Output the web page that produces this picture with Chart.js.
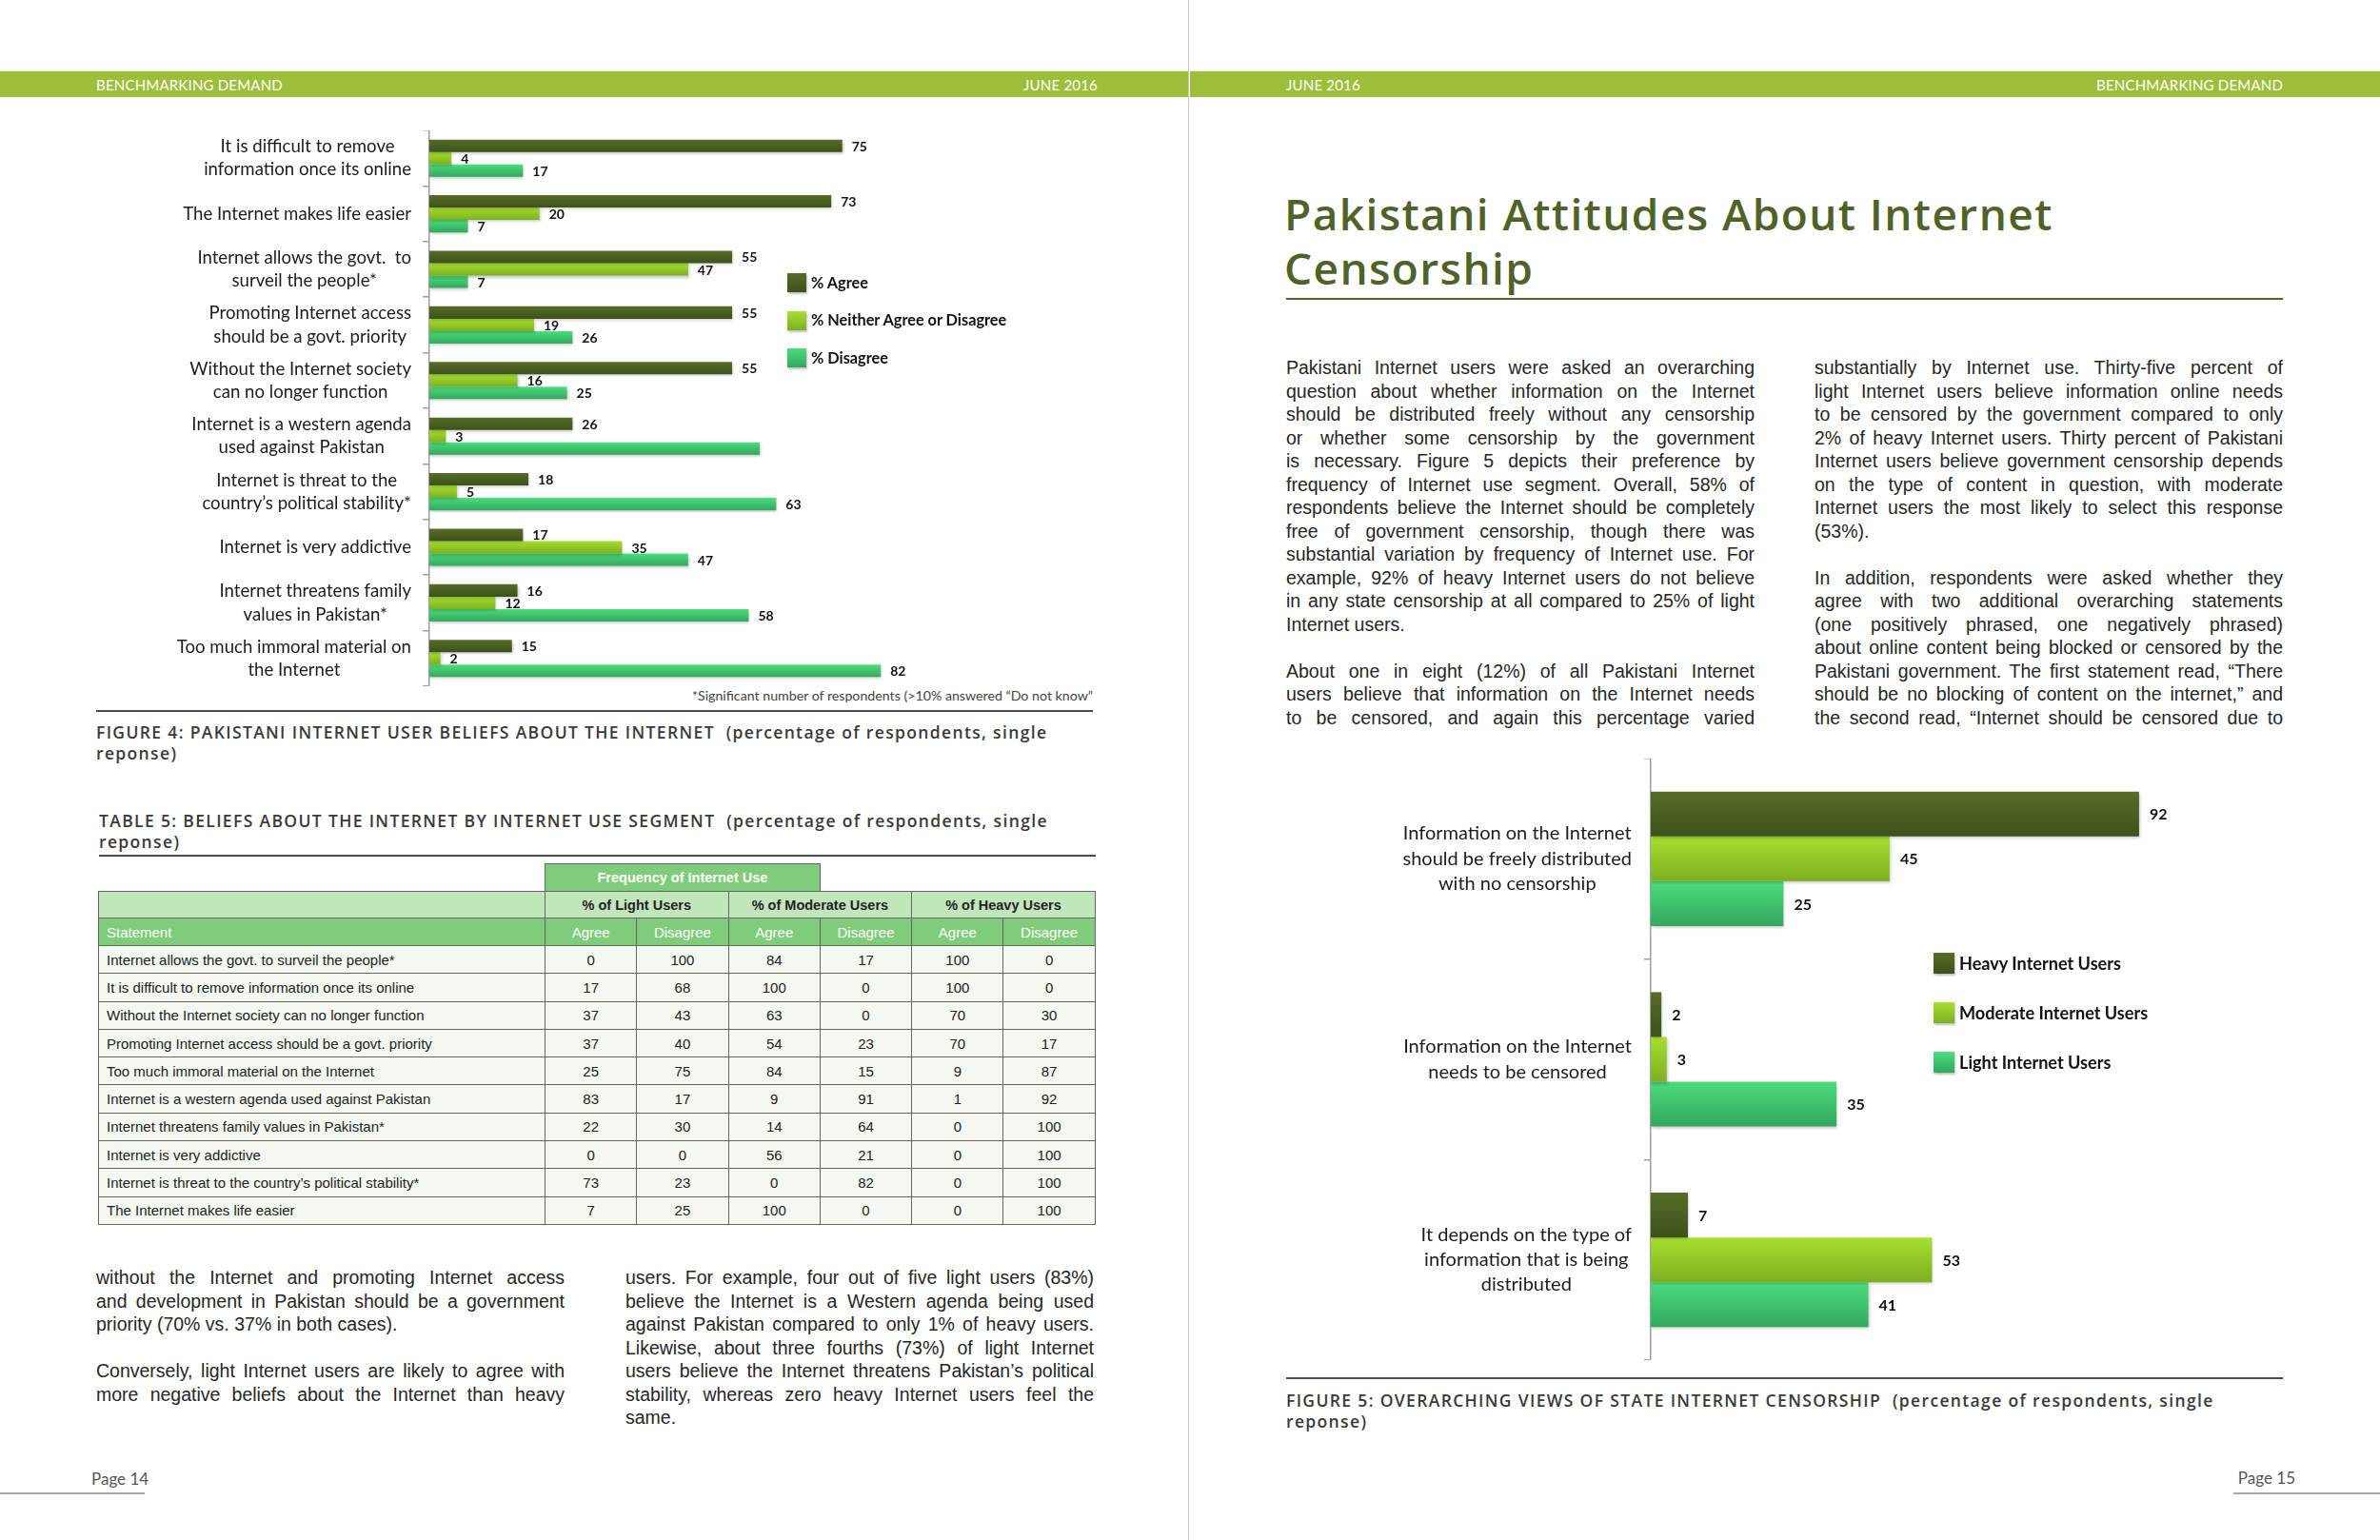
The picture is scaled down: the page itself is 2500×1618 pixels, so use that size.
<!DOCTYPE html>
<html>
<head>
<meta charset="utf-8">
<script src="https://cdn.jsdelivr.net/npm/chart.js@4.4.1/dist/chart.umd.min.js"></script>
<style>
  html, body { margin: 0; padding: 0; background: #fff; }
  body { width: 2500px; height: 1618px; position: relative; overflow: hidden; font-family: 'Liberation Sans', Arial, sans-serif; color: #262626; }
  .abs { position: absolute; }
  .hdr { position: absolute; top: 74px; height: 27px; background: #9dbe3b; border-top: 1px solid #e4eed0; }
  .hdr span { position: absolute; top: 5px; font-family: Lato, sans-serif; font-size: 15px; color: #fff; letter-spacing: 0.2px; }
  .fold { position: absolute; left: 1248px; top: 0; width: 1px; height: 1618px; background: #c8c8c8; }
  .rule { position: absolute; height: 2px; background: #4a4a4a; }
  .caption { position: absolute; font-family: 'Open Sans', sans-serif; font-weight: 600; font-size: 17.5px; letter-spacing: 1.35px; line-height: 22px; color: #3a3a3a; white-space: nowrap; }
  .col { position: absolute; width: 492px; font-size: 19.5px; line-height: 24.5px; color: #262626; }
  .col div { text-align: justify; text-align-last: justify; white-space: nowrap; }
  .col div.last { text-align: left; text-align-last: left; }
  .col div.gap { height: 24.5px; }
  .legend { position: absolute; font-family: Lato, sans-serif; font-weight: 700; color: #111; }
  .legend .item { position: absolute; left: 0; white-space: nowrap; }
  .legend .sw { position: absolute; left: 0; box-shadow: 1px 2px 2px rgba(0,0,0,0.25); }
  .pagenum { position: absolute; font-family: Lato, sans-serif; font-size: 17px; color: #555; }
  .pageline { position: absolute; height: 2px; background: #a8a8a8; top: 1568px; }
  table.t5 { position: absolute; left: 103px; top: 907px; border-collapse: collapse; font-size: 15px; table-layout: fixed; }
  table.t5 td { border: 1.5px solid #666; padding: 0 8px; white-space: nowrap; }
  table.t5 td.c { text-align: center; padding: 0; }
  table.t5 tr.top td { border: none; }
  table.t5 tr.top td.freq { background: #7fcc7a; color: #fff; font-weight: 700; text-align: center; border: 1.5px solid #666; border-bottom: none; font-size: 14.5px; }
  table.t5 tr.grp td { background: #c2e6bc; font-weight: 700; font-size: 14.5px; color: #222; }
  table.t5 tr.sub td { background: #7fcc7a; color: #fff; }
  table.t5 tr.row td { background: #f3f9f1; color: #222; }
</style>
</head>
<body>

<div class="hdr" style="left:0; width:1248px;">
  <span style="left:101px;">BENCHMARKING DEMAND</span>
  <span style="right:95px;">JUNE 2016</span>
</div>
<div class="hdr" style="left:1250px; width:1250px;">
  <span style="left:101px;">JUNE 2016</span>
  <span style="right:102px;">BENCHMARKING DEMAND</span>
</div>
<div class="fold"></div>

<!-- Figure 4 -->
<canvas id="fig4" class="abs" style="left:161px; top:137px;" width="984" height="584"></canvas>
<div id="legend4" class="legend" style="left:827px; top:0;"></div>
<div class="abs" style="left:560px; width:588px; top:722px; text-align:right; font-family:Lato, sans-serif; font-size:14.2px; color:#444;">*Significant number of respondents (&gt;10% answered “Do not know”</div>
<div class="rule" style="left:101px; width:1047px; top:746px;"></div>
<div class="caption" style="left:101px; top:758px;">FIGURE 4: PAKISTANI INTERNET USER BELIEFS ABOUT THE INTERNET&nbsp; (percentage of respondents, single<br>reponse)</div>

<!-- Table 5 -->
<div class="caption" style="left:104px; top:851px;">TABLE 5: BELIEFS ABOUT THE INTERNET BY INTERNET USE SEGMENT&nbsp; (percentage of respondents, single<br>reponse)</div>
<div class="rule" style="left:104px; width:1047px; top:898px;"></div>
<table class="t5" id="table5"></table>

<div id="textLeftA" class="col" style="left:101px; top:1330px;"></div>
<div id="textLeftB" class="col" style="left:657px; top:1330px;"></div>

<div class="pagenum" style="left:96px; top:1543px;">Page 14</div>
<div class="pageline" style="left:0; width:152px;"></div>

<!-- Right page -->
<div class="abs" style="left:1349px; top:196px; font-family:'Open Sans', sans-serif; font-weight:600; font-size:46px; letter-spacing:1.4px; line-height:57px; color:#4f6228; white-space:nowrap;">Pakistani Attitudes About Internet<br>Censorship</div>
<div class="rule" style="left:1351px; width:1047px; top:313px; background:#4f6228;"></div>

<div id="textRightA" class="col" style="left:1351px; top:374px;"></div>
<div id="textRightB" class="col" style="left:1906px; top:374px;"></div>

<canvas id="fig5" class="abs" style="left:1434px; top:797px;" width="969" height="632"></canvas>
<div id="legend5" class="legend" style="left:2031px; top:0;"></div>
<div class="rule" style="left:1351px; width:1047px; top:1447px;"></div>
<div class="caption" style="left:1351px; top:1460px;">FIGURE 5: OVERARCHING VIEWS OF STATE INTERNET CENSORSHIP&nbsp; (percentage of respondents, single<br>reponse)</div>

<div class="pagenum" style="right:89px; top:1542px;">Page 15</div>
<div class="pageline" style="left:2346px; width:154px;"></div>

<script>
// ---- Figure 4 data ----
const beliefCategories = [
  ['It is difficult to remove', 'information once its online'],
  'The Internet makes life easier',
  ['Internet allows the govt.  to', 'surveil the people*'],
  ['Promoting Internet access', 'should be a govt. priority'],
  ['Without the Internet society', 'can no longer function'],
  ['Internet is a western agenda', 'used against Pakistan'],
  ['Internet is threat to the', 'country\u2019s political stability*'],
  'Internet is very addictive',
  ['Internet threatens family', 'values in Pakistan*'],
  ['Too much immoral material on', 'the Internet']
];
const agreeValues    = [75, 73, 55, 55, 55, 26, 18, 17, 16, 15];
const neitherValues  = [4, 20, 47, 19, 16, 3, 5, 35, 12, 2];
const disagreeValues = [17, 7, 7, 26, 25, 60, 63, 47, 58, 82];
const disagreeLabelHidden = [5]; // label cut off in the original
const beliefSeries = ['% Agree', '% Neither Agree or Disagree', '% Disagree'];

// ---- Figure 5 data ----
const censorCategories = [
  ['Information on the Internet', 'should be freely distributed', 'with no censorship'],
  ['Information on the Internet', 'needs to be censored'],
  ['It depends on the type of', 'information that is being', 'distributed']
];
const heavyValues    = [92, 2, 7];
const moderateValues = [45, 3, 53];
const lightValues    = [25, 35, 41];
const censorSeries = ['Heavy Internet Users', 'Moderate Internet Users', 'Light Internet Users'];

// ---- Table 5 data ----
const tableStatements = [
  'Internet allows the govt. to surveil the people*',
  'It is difficult to remove information once its online',
  'Without the Internet society can no longer function',
  'Promoting Internet access should be a govt. priority',
  'Too much immoral material on the Internet',
  'Internet is a western agenda used against Pakistan',
  'Internet threatens family values in Pakistan*',
  'Internet is very addictive',
  'Internet is threat to the country\u2019s political stability*',
  'The Internet makes life easier'
];
const lightAgree       = [0, 17, 37, 37, 25, 83, 22, 0, 73, 7];
const lightDisagree    = [100, 68, 43, 40, 75, 17, 30, 0, 23, 25];
const moderateAgree    = [84, 100, 63, 54, 84, 9, 14, 56, 0, 100];
const moderateDisagree = [17, 0, 0, 23, 15, 91, 64, 21, 82, 0];
const heavyAgree       = [100, 100, 70, 70, 9, 1, 0, 0, 0, 0];
const heavyDisagree    = [0, 0, 30, 17, 87, 92, 100, 100, 100, 100];

// bar colours (top, bottom of gradient)
const darkOlive = ['#566d28', '#3d511a'];
const lime      = ['#a6df2f', '#7daf22'];
const mint      = ['#4bdc7c', '#33a85e'];

// gradient fill + soft drop shadow like the Excel original
const barLook = {
  id: 'barLook',
  beforeDatasetsDraw(chart) {
    const c = chart.ctx;
    chart.data.datasets.forEach((ds, k) => {
      chart.getDatasetMeta(k).data.forEach(el => {
        const g = c.createLinearGradient(0, el.y - el.height / 2, 0, el.y + el.height / 2);
        g.addColorStop(0, ds.shade[0]);
        g.addColorStop(1, ds.shade[1]);
        el.options = Object.assign({}, el.options, { backgroundColor: g });
      });
    });
    c.save();
    c.shadowColor = 'rgba(0,0,0,0.22)';
    c.shadowBlur = 3;
    c.shadowOffsetX = 1;
    c.shadowOffsetY = 2;
  },
  afterDatasetsDraw(chart) {
    chart.ctx.restore();
  }
};

// numbers at the end of each bar
const valueLabels = {
  id: 'valueLabels',
  afterDatasetsDraw(chart, args, opts) {
    const c = chart.ctx;
    c.save();
    c.font = 'bold ' + opts.size + 'px Lato';
    c.fillStyle = '#111';
    c.textBaseline = 'middle';
    chart.data.datasets.forEach((ds, k) => {
      chart.getDatasetMeta(k).data.forEach((el, i) => {
        if (ds.hideLabel && ds.hideLabel.includes(i)) return;
        c.fillText(String(ds.data[i]), el.x + opts.offset, el.y + 1);
      });
    });
    c.restore();
  }
};

// category labels Excel-style: each block right-aligned to the axis, its lines centred within the block
const blockLabels = {
  id: 'blockLabels',
  afterDraw(chart, args, opts) {
    const s = chart.scales.y;
    const c = chart.ctx;
    c.save();
    c.font = opts.size + 'px Lato';
    c.fillStyle = '#1c1c1c';
    c.textAlign = 'center';
    c.textBaseline = 'middle';
    chart.data.labels.forEach((lab, i) => {
      const lines = [].concat(lab);
      const w = Math.max(...lines.map(l => c.measureText(l).width));
      const cx = s.right - opts.gap - w / 2;
      const y0 = s.getPixelForTick(i) - (lines.length - 1) * opts.lineH / 2;
      lines.forEach((l, j) => c.fillText(l, cx, y0 + j * opts.lineH));
    });
    c.restore();
  }
};

function makeBarChart(id, labels, series, values, shades, cfg) {
  const datasets = series.map((name, k) => ({
    label: name,
    data: values[k],
    shade: shades[k],
    hideLabel: cfg.hidden ? cfg.hidden[k] : null,
    backgroundColor: shades[k][0],
    borderWidth: 0,
    categoryPercentage: 0.67,
    barPercentage: 1.0
  }));
  return new Chart(document.getElementById(id), {
    type: 'bar',
    data: { labels: labels, datasets: datasets },
    plugins: [barLook, valueLabels, blockLabels],
    options: {
      indexAxis: 'y',
      responsive: false,
      animation: false,
      devicePixelRatio: 1,
      layout: { padding: 0 },
      plugins: {
        legend: { display: false },
        tooltip: { enabled: false },
        valueLabels: { size: cfg.valueSize, offset: cfg.valueOffset },
        blockLabels: { size: cfg.labelSize, lineH: cfg.labelLine, gap: cfg.labelGap }
      },
      scales: {
        x: { display: false, min: 0, max: 120 },
        y: {
          grid: { drawOnChartArea: false, drawTicks: true, tickLength: 7, color: '#a0a0a0', lineWidth: 1.5, offset: true },
          border: { display: true, color: '#a0a0a0', width: 1.5 },
          ticks: { display: false, autoSkip: false },
          afterFit(scale) {
            scale.width = cfg.axisWidth;
            scale.paddingTop = 0;
            scale.paddingBottom = 0;
          }
        }
      }
    }
  });
}

makeBarChart('fig4', beliefCategories, beliefSeries,
  [agreeValues, neitherValues, disagreeValues], [darkOlive, lime, mint],
  { axisWidth: 290, labelGap: 19, labelSize: 18.6, labelLine: 24.2, valueSize: 14, valueOffset: 10,
    hidden: [null, null, disagreeLabelHidden] });

makeBarChart('fig5', censorCategories, censorSeries,
  [heavyValues, moderateValues, lightValues], [darkOlive, lime, mint],
  { axisWidth: 300, labelGap: 20, labelSize: 20, labelLine: 26.3, valueSize: 16, valueOffset: 11 });

// legends
function buildLegend(id, names, shades, firstY, stepY, box, size, textGap) {
  const host = document.getElementById(id);
  names.forEach((name, k) => {
    const cy = firstY + k * stepY;
    const sw = document.createElement('div');
    sw.className = 'sw';
    sw.style.cssText = 'top:' + (cy - box / 2) + 'px;width:' + box + 'px;height:' + box + 'px;background:linear-gradient(' + shades[k][0] + ',' + shades[k][1] + ');';
    host.appendChild(sw);
    const t = document.createElement('div');
    t.className = 'item';
    t.style.cssText = 'left:' + textGap + 'px;top:' + (cy - size * 0.62) + 'px;font-size:' + size + 'px;';
    t.textContent = name;
    host.appendChild(t);
  });
}
buildLegend('legend4', beliefSeries, [darkOlive, lime, mint], 297, 39.5, 20, 16.3, 25);
buildLegend('legend5', censorSeries, [darkOlive, lime, mint], 1012, 52, 22, 18.1, 27);

// table 5
(function () {
  const tb = document.getElementById('table5');
  let html = '<colgroup><col style="width:469px">' + '<col style="width:96.3px">'.repeat(6) + '</colgroup>';
  html += '<tr class="top" style="height:29px"><td></td><td class="freq" colspan="3">Frequency of Internet Use</td><td colspan="3"></td></tr>';
  html += '<tr class="grp" style="height:28px"><td></td><td class="c" colspan="2">% of Light Users</td><td class="c" colspan="2">% of Moderate Users</td><td class="c" colspan="2">% of Heavy Users</td></tr>';
  html += '<tr class="sub" style="height:29px"><td>Statement</td>' + '<td class="c">Agree</td><td class="c">Disagree</td>'.repeat(3) + '</tr>';
  tableStatements.forEach((s, i) => {
    const vals = [lightAgree[i], lightDisagree[i], moderateAgree[i], moderateDisagree[i], heavyAgree[i], heavyDisagree[i]];
    html += '<tr class="row" style="height:29.3px"><td>' + s + '</td>' + vals.map(v => '<td class="c">' + v + '</td>').join('') + '</tr>';
  });
  tb.innerHTML = html;
})();

// body text, one entry per printed line; '' = paragraph break
function fillColumn(id, lines, lastIdx) {
  const host = document.getElementById(id);
  lines.forEach((line, i) => {
    const d = document.createElement('div');
    if (line === '') { d.className = 'gap'; }
    else {
      d.textContent = line;
      if (lastIdx.includes(i)) d.className = 'last';
    }
    host.appendChild(d);
  });
}

fillColumn('textLeftA', [
  'without the Internet and promoting Internet access',
  'and development in Pakistan should be a government',
  'priority (70% vs. 37% in both cases).',
  '',
  'Conversely, light Internet users are likely to agree with',
  'more negative beliefs about the Internet than heavy'
], [2]);

fillColumn('textLeftB', [
  'users. For example, four out of five light users (83%)',
  'believe the Internet is a Western agenda being used',
  'against Pakistan compared to only 1% of heavy users.',
  'Likewise, about three fourths (73%) of light Internet',
  'users believe the Internet threatens Pakistan\u2019s political',
  'stability, whereas zero heavy Internet users feel the',
  'same.'
], [6]);

fillColumn('textRightA', [
  'Pakistani Internet users were asked an overarching',
  'question about whether information on the Internet',
  'should be distributed freely without any censorship',
  'or whether some censorship by the government',
  'is necessary. Figure 5 depicts their preference by',
  'frequency of Internet use segment. Overall, 58% of',
  'respondents believe the Internet should be completely',
  'free of government censorship, though there was',
  'substantial variation by frequency of Internet use. For',
  'example, 92% of heavy Internet users do not believe',
  'in any state censorship at all compared to 25% of light',
  'Internet users.',
  '',
  'About one in eight (12%) of all Pakistani Internet',
  'users believe that information on the Internet needs',
  'to be censored, and again this percentage varied'
], [11]);

fillColumn('textRightB', [
  'substantially by Internet use. Thirty-five percent of',
  'light Internet users believe information online needs',
  'to be censored by the government compared to only',
  '2% of heavy Internet users. Thirty percent of Pakistani',
  'Internet users believe government censorship depends',
  'on the type of content in question, with moderate',
  'Internet users the most likely to select this response',
  '(53%).',
  '',
  'In addition, respondents were asked whether they',
  'agree with two additional overarching statements',
  '(one positively phrased, one negatively phrased)',
  'about online content being blocked or censored by the',
  'Pakistani government. The first statement read, \u201cThere',
  'should be no blocking of content on the internet,\u201d and',
  'the second read, \u201cInternet should be censored due to'
], [7]);
</script>
</body>
</html>
